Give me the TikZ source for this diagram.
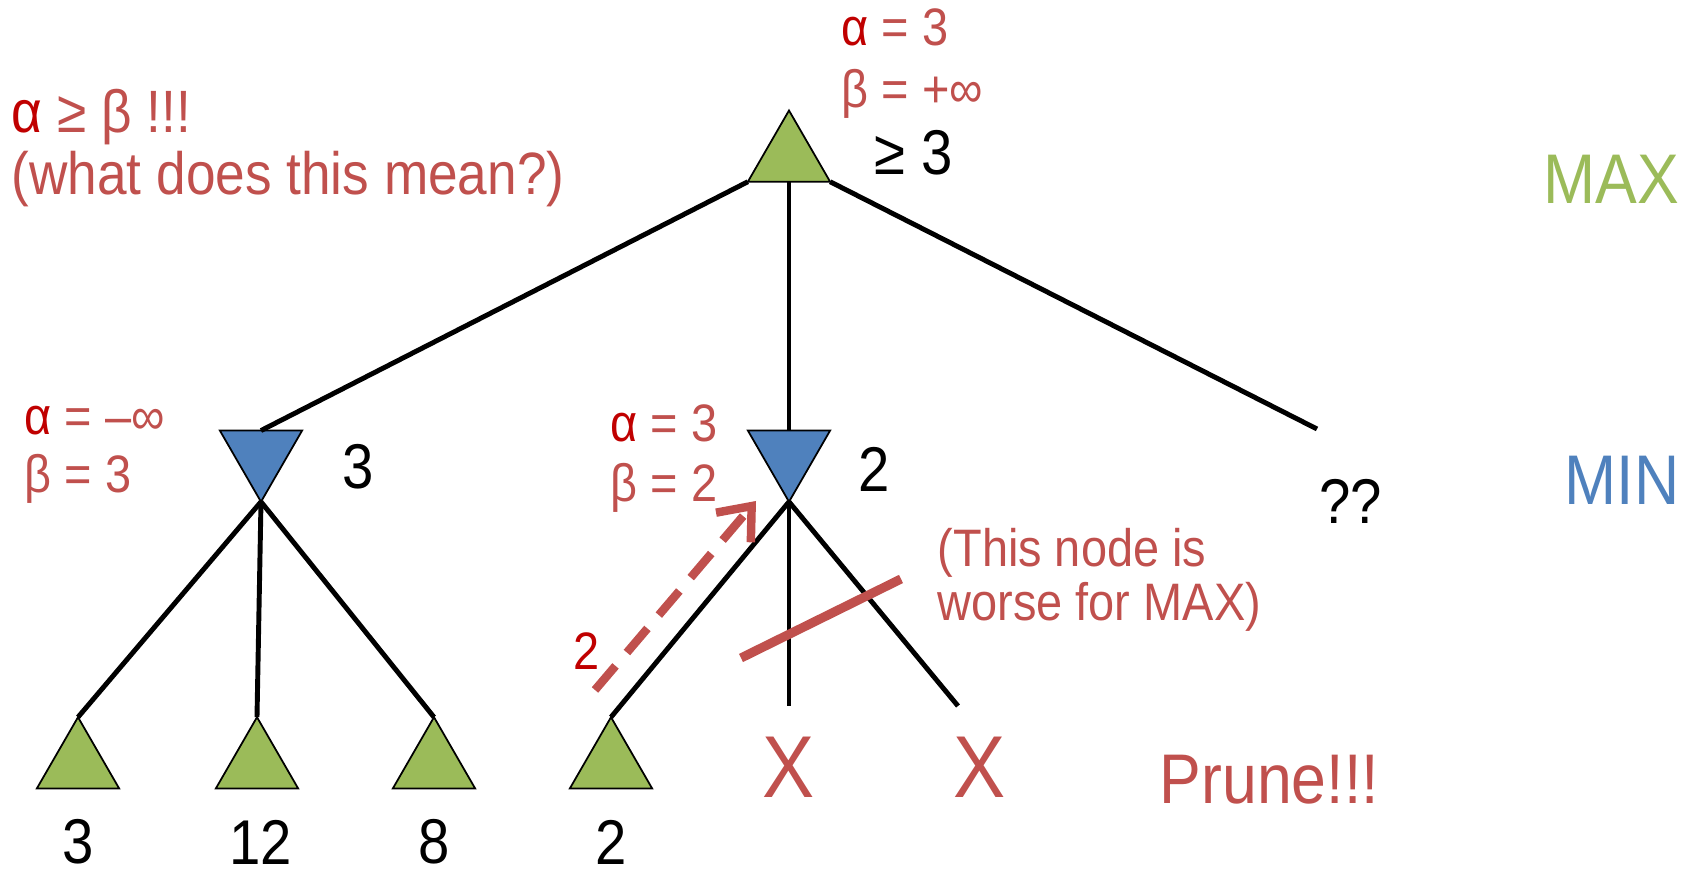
\documentclass[tikz,border=0pt]{standalone}
\usepackage{fontspec}
\setmainfont{Liberation Sans}[FakeStretch=0.89]
\usepackage{tikz}
\usetikzlibrary{shapes.geometric, arrows.meta}
\definecolor{maxgreen}{HTML}{9BBB59}
\definecolor{minblue}{HTML}{4F81BD}
\definecolor{note}{HTML}{C0504D}
\definecolor{alphared}{HTML}{C00000}
\newcommand{\alphamark}{{\color{alphared}α}}

\begin{document}
\begin{tikzpicture}[
    tri/.style   = {regular polygon, regular polygon sides=3, minimum size=0.95cm,
                    inner sep=0pt, outer sep=0pt, draw=black, line width=0.5pt},
    maxn/.style  = {tri, fill=maxgreen},
    minn/.style  = {tri, fill=minblue, shape border rotate=180},
    edge/.style  = {line width=1.4pt, black},
    ann/.style   = {anchor=base west, inner sep=0pt, text=note,
                    font=\fontsize{15}{18}\selectfont},
    bigann/.style= {anchor=base west, inner sep=0pt, text=note,
                    font=\fontsize{17}{20}\selectfont},
    val/.style   = {inner sep=0pt, font=\fontsize{18}{21}\selectfont},
    lvl/.style   = {anchor=base east, inner sep=0pt, font=\fontsize{20}{24}\selectfont},
    cut/.style   = {inner sep=0pt, text=note, font=\fontsize{25}{30}\selectfont}
  ]
  \useasboundingbox (0,0) rectangle (17.02,8.75);

  % ── MAX root ─────────────────────────────────────────────────────────────
  \node[maxn] (root) at (7.89,7.17) {};
  \node[ann] at (8.41,8.29) {\alphamark{} = 3};
  \node[ann] at (8.41,7.67) {β = +∞};
  \node[val, anchor=base west] at (8.74,7.00) {≥ 3};
  \node[bigann] at (0.11,7.42) {\alphamark{} ≥ β !!!};
  \node[bigann] at (0.11,6.80) {(what does this mean?)};

  % ── MIN layer ────────────────────────────────────────────────────────────
  \node[minn] (m1) at (2.61,4.207) {};
  \node[minn] (m2) at (7.89,4.207) {};
  \coordinate (m3) at (13.17,4.46);
  \node[val] at (3.58,4.08) {3};
  \node[val] at (8.74,4.06) {2};
  \node[val] at (13.51,3.74) {??};
  \node[ann] at (0.24,4.40) {\alphamark{} = –∞};
  \node[ann] at (0.24,3.82) {β = 3};
  \node[ann] at (6.10,4.33) {\alphamark{} = 3};
  \node[ann] at (6.10,3.73) {β = 2};

  % ── Leaves ───────────────────────────────────────────────────────────────
  \node[maxn] (l1) at (0.78,1.103) {};
  \node[maxn] (l2) at (2.57,1.103) {};
  \node[maxn] (l3) at (4.34,1.103) {};
  \node[maxn] (l4) at (6.11,1.103) {};
  \node[val] at (0.78,0.33) {3};
  \node[val] at (2.61,0.33) {12};
  \node[val] at (4.34,0.33) {8};
  \node[val] at (6.11,0.33) {2};
  \coordinate (p1) at (7.89,1.69);
  \coordinate (p2) at (9.58,1.69);
  \node[cut] (x1) at (7.89,1.08) {X};
  \node[cut] (x2) at (9.80,1.08) {X};

  % ── Tree edges ───────────────────────────────────────────────────────────
  \draw[edge] (root.corner 2) -- (m1.side 2);
  \draw[edge] (root.side 2)   -- (m2.side 2);
  \draw[edge] (root.corner 3) -- (m3);
  \draw[edge] (m1.corner 1) -- (l1.corner 1);
  \draw[edge] (m1.corner 1) -- (l2.corner 1);
  \draw[edge] (m1.corner 1) -- (l3.corner 1);
  \draw[edge] (m2.corner 1) -- (l4.corner 1);
  \draw[edge] (m2.corner 1) -- (p1);
  \draw[edge] (m2.corner 1) -- (p2);

  % ── Pruning notes ────────────────────────────────────────────────────────
  \coordinate (a0) at (5.95,1.85);
  \coordinate (a1) at (7.56,3.74);
  \draw[note, line width=2.4pt, dash pattern=on 9pt off 5pt,
        -{Straight Barb[length=8pt, width=13pt, line width=2.4pt]}] (a0) -- (a1);
  \node[ann, anchor=center, text=alphared] at (5.87,2.24) {2};
  \coordinate (b0) at (7.41,2.17);
  \coordinate (b1) at (9.01,2.96);
  \draw[note, line width=2.6pt] (b0) -- (b1);
  \node[ann] at (9.37,3.08) {(This node is};
  \node[ann] at (9.37,2.54) {worse for MAX)};
  \node[lvl, anchor=base west, text=note] at (11.59,0.71) {Prune!!!};

  % ── Level labels ─────────────────────────────────────────────────────────
  \node[lvl, text=maxgreen] at (16.80,6.71) {MAX};
  \node[lvl, text=minblue]  at (16.80,3.70) {MIN};
\end{tikzpicture}
\end{document}
